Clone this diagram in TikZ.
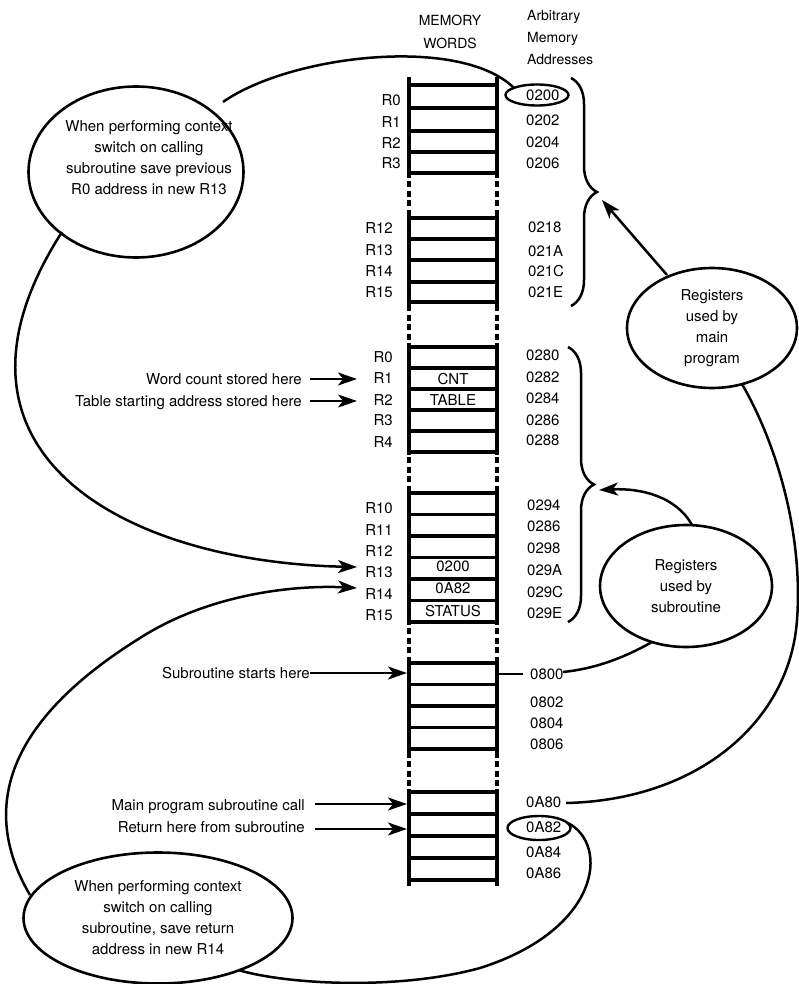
\documentclass[tikz,border=0pt]{standalone}
\usepackage{fontspec}
\setmainfont{TeX Gyre Heros}
\usetikzlibrary{arrows.meta,decorations.pathreplacing,shapes.geometric}
\begin{document}
\begin{tikzpicture}[x=1pt,y=-1pt,
  lbl/.style={font=\fontsize{15}{18}\selectfont, inner sep=0pt, yshift=-5.4pt},
  reg/.style={lbl, anchor=base east},
  addr/.style={lbl, anchor=base west},
  cell/.style={lbl, anchor=base},
  txt/.style={lbl, anchor=base east},
  hdr/.style={font=\fontsize{14}{18}\selectfont, inner sep=0pt, yshift=-5pt},
  rung/.style={line width=3.2pt},
  rail/.style={line width=3.6pt},
  dashrail/.style={line width=3.2pt, dash pattern=on 6pt off 3.5pt},
  bubble/.style={draw, ellipse, line width=2.6pt, inner sep=0pt},
  btext/.style={font=\fontsize{15}{21}\selectfont, align=center, inner sep=0pt},
  conn/.style={line width=2.5pt},
  arr/.style={line width=2.5pt, -{Stealth[length=19pt,width=13pt,inset=5pt]}},
  brc/.style={line width=2.5pt, decorate, decoration={brace, amplitude=26pt}}
]
\useasboundingbox (0,0) rectangle (799,984);

% headers
\node[hdr, anchor=center] (hmem) at (450,15) {MEMORY};
\node[hdr, anchor=center] (hwords) at (450,38) {WORDS};
\node[hdr, anchor=west] (harb) at (527,12) {Arbitrary};
\node[hdr, anchor=west] (hmem2) at (527,34) {Memory};
\node[hdr, anchor=west] (hadr) at (527,55) {Addresses};

% rails
\draw[dashrail] (409,77) -- (409,885);
\draw[dashrail] (497,77) -- (497,885);
\foreach \a/\b in {77/176, 215/305, 344/455, 490/625, 660/752, 789/885}{
  \draw[rail] (409,\a) -- (409,\b);
  \draw[rail] (497,\a) -- (497,\b);
}
% rungs
\foreach \y in {85,108,131,152,173, 218,239,260,282,302, 347,368,389,410,431,452,
                493,514.5,536,557.5,579,600.5,622, 663,684.5,706,727.5,749, 792,814,836,858,880}{
  \draw[rung] (409,\y) -- (497,\y);
}

% register labels
\foreach \y/\t [count=\i] in {100/R0,122/R1,143/R2,163/R3}
  \node[reg] (ra\i) at (401,\y) {\t};
\foreach \y/\t [count=\i] in {228/R12,250/R13,271/R14,292/R15}
  \node[reg] (rb\i) at (393,\y) {\t};
\foreach \y/\t [count=\i] in {357/R0,378/R1,400/R2,420/R3,442/R4}
  \node[reg] (rc\i) at (393,\y) {\t};
\foreach \y/\t [count=\i] in {508/R10,530/R11,551/R12,572/R13,594/R14,615/R15}
  \node[reg] (rd\i) at (393,\y) {\t};

% addresses
\foreach \y/\t [count=\i] in {95/0200,120/0202,142/0204,163/0206}
  \node[addr] (aa\i) at (526,\y) {\t};
\foreach \y/\t [count=\i] in {227/0218,251/021A,271/021C,292/021E}
  \node[addr] (ab\i) at (528,\y) {\t};
\foreach \y/\t [count=\i] in {355/0280,377/0282,398/0284,420/0286,440/0288}
  \node[addr] (ac\i) at (526,\y) {\t};
\foreach \y/\t [count=\i] in {505/0294,526/0286,548/0298,570/029A,592/029C,613/029E}
  \node[addr] (ad\i) at (527,\y) {\t};
\foreach \y/\t [count=\i] in {674/0800,702/0802,723/0804,744/0806}
  \node[addr] (ae\i) at (530,\y) {\t};
\foreach \y/\t [count=\i] in {802/0A80,827/0A82,852/0A84,873/0A86}
  \node[addr] (af\i) at (526,\y) {\t};

% cell contents
\node[cell] (cnt) at (453,379) {CNT};
\node[cell] (tbl) at (453,400) {TABLE};
\node[cell] (c200) at (453,566) {0200};
\node[cell] (ca82) at (453,588) {0A82};
\node[cell] (cst) at (453,611) {STATUS};

% small ellipses around addresses
\node[draw, ellipse, line width=2.4pt, minimum width=63pt, minimum height=21pt] (e200) at (537,95) {};
\node[draw, ellipse, line width=2.4pt, minimum width=63pt, minimum height=24pt] (ea82) at (539,828) {};

% braces
\draw[brc] (571,78) -- (571,306);
\draw[brc] (568,347) -- (568,622);
\coordinate (tip1) at (602,200);
\coordinate (tip2) at (599,490);

% bubbles
\node[bubble, minimum width=215pt, minimum height=171pt] (bl1) at (136,172) {};
\node[btext] (bl1t) at (149,158) {When performing context\\switch on calling\\subroutine save previous\\R0 address in new R13};
\node[bubble, minimum width=269pt, minimum height=131pt, btext] (bl2) at (158,918) {When performing context\\switch on calling\\subroutine, save return\\address in new R14};
\node[bubble, minimum width=170pt, minimum height=120pt, btext] (bmain) at (712,328) {Registers\\used by\\main\\program};
\node[bubble, minimum width=172pt, minimum height=122pt, btext] (bsub) at (686,586) {Registers\\used by\\subroutine};

% left side labels
\node[txt] (wc) at (302,379) {Word count stored here};
\node[txt] (ts) at (302,401) {Table starting address stored here};
\node[txt] (ss) at (310,673) {Subroutine starts here};
\node[txt] (mp) at (305,805) {Main program subroutine call};
\node[txt] (rh) at (305,827) {Return here from subroutine};

% straight arrows
\draw[arr] (310,379) -- (357,379);
\draw[arr] (310,401) -- (357,401);
\draw[arr] (310,673) -- (407,673);
\draw[arr] (315,804) -- (407,804);
\draw[arr] (315,829) -- (407,829);

% connectors
\draw[conn] (223,102) .. controls (290,55) and (460,35) .. (514,88);
\draw[arr] (62,232) .. controls (-78,450) and (120,562) .. (357,567);
\draw[arr] (30,895) .. controls (-14,820) and (-8,730) .. (140,638) .. controls (212,592) and (300,585) .. (357,588);
\draw[conn] (568,823) .. controls (610,845) and (600,930) .. (480,968) .. controls (400,990) and (290,985) .. (238,970);
\draw[conn] (742,384) .. controls (780,450) and (803,540) .. (797,620) .. controls (790,720) and (700,800) .. (566,803);
\draw[conn] (652,642) .. controls (620,660) and (592,669) .. (563,672);
\draw[conn] (498,674) -- (523,674);
\draw[arr] (667,275) -- (tip1);
\draw[arr] (692,525) .. controls (676,496) and (640,488) .. (tip2);
\end{tikzpicture}
\end{document}
